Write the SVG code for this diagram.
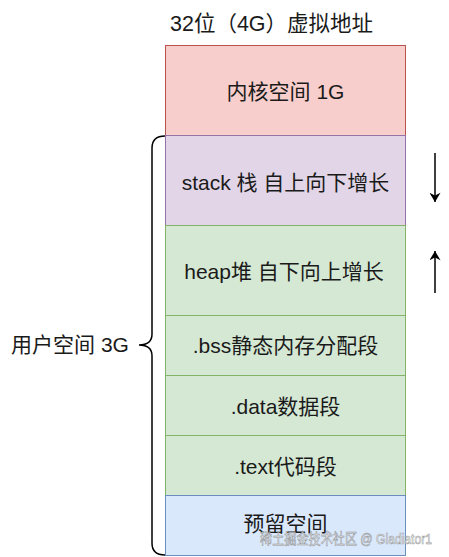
<svg xmlns="http://www.w3.org/2000/svg" width="449" height="557" viewBox="0 0 449 557">
<style>
text{font-family:"Liberation Sans","Noto Sans CJK SC",sans-serif;font-size:21px;fill:#1a1a1a}
.c{text-anchor:middle;dominant-baseline:central}
.red{fill:#f8cecc;stroke:#b85450}
.pur{fill:#e1d5e7;stroke:#9673a6}
.grn{fill:#d5e8d4;stroke:#82b366}
.blu{fill:#dae8fc;stroke:#6c8ebf}
rect{stroke-width:1}
.ln{fill:none;stroke:#000;stroke-width:1.5}
.wm{font-size:15px;fill:#fff;stroke:#888;stroke-width:0.6;opacity:0.85}
</style>
<defs>
<marker id="ah" viewBox="0 0 10 12" refX="10" refY="6" markerWidth="13" markerHeight="11" markerUnits="userSpaceOnUse" orient="auto"><path d="M0,0 L10,6 L0,12 L3,6 Z" fill="#000"/></marker>
</defs>
<text x="170" y="31" style="font-size:21.5px">32位（4G）虚拟地址</text>
<g id="kernel"><rect class="red" x="165.5" y="45.5" width="240" height="90"/><text class="c" x="285.5" y="91">内核空间 1G</text></g>
<g id="stack"><rect class="pur" x="165.5" y="135.5" width="240" height="90"/><text class="c" x="285.5" y="182">stack 栈 自上向下增长</text></g>
<g id="heap"><rect class="grn" x="165.5" y="225.5" width="240" height="90"/><text class="c" x="284" y="271">heap堆 自下向上增长</text></g>
<g id="bss"><rect class="grn" x="165.5" y="315.5" width="240" height="60"/><text class="c" x="285.5" y="345">.bss静态内存分配段</text></g>
<g id="data"><rect class="grn" x="165.5" y="375.5" width="240" height="60"/><text class="c" x="285.5" y="406">.data数据段</text></g>
<g id="textseg"><rect class="grn" x="165.5" y="435.5" width="240" height="60"/><text class="c" x="285.5" y="466">.text代码段</text></g>
<g id="reserved"><rect class="blu" x="165.5" y="495.5" width="240" height="60"/><text class="c" x="285.5" y="523">预留空间</text></g>
<g id="userspace"><path class="ln" d="M165,136 Q152,136 152,148 L152,334 Q152,345 139,345 Q152,345 152,356 L152,543 Q152,555 165,555"/><text class="c" x="70" y="344">用户空间 3G</text></g>
<g id="connectors">
<line class="ln" x1="435" y1="153" x2="435" y2="202" marker-end="url(#ah)"/>
<line class="ln" x1="435" y1="293" x2="435" y2="251" marker-end="url(#ah)"/>
</g>
<text class="wm" x="260" y="544" textLength="172" lengthAdjust="spacingAndGlyphs">稀土掘金技术社区 @ Gladiator1</text>
</svg>
